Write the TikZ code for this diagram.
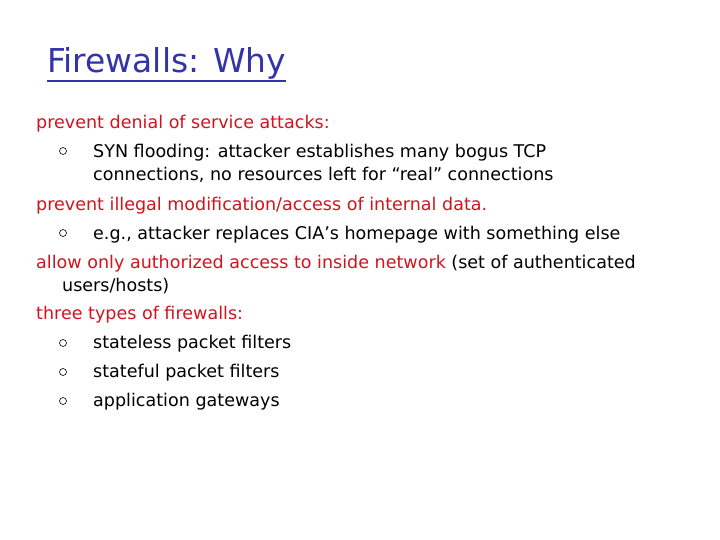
\documentclass[tikz,border=0pt]{standalone}
\usepackage{fontspec}
\setmainfont{DejaVu Sans}
\definecolor{ttl}{RGB}{51,51,170}
\definecolor{rd}{RGB}{210,20,30}
\begin{document}
\begin{tikzpicture}[x=1bp,y=1bp,
  ln/.style={anchor=base west,inner sep=0pt,font=\fontsize{17.6}{20}\selectfont},
  blt/.style={circle,draw=black,line width=0.6bp,minimum size=7bp,inner sep=0pt}]
\useasboundingbox[fill=white] (0,0) rectangle (720,540);
\node[anchor=base west,inner sep=0pt,text=ttl,font=\fontsize{33}{36}\selectfont] (title) at (47,467) {Firewalls: Why};
\draw[ttl,line width=1.3bp] ([yshift=-8bp]title.base west) -- ([yshift=-8bp]title.base east);
\node[ln,text=rd] (l1) at (36,411) {prevent denial of service attacks:};
\node[blt] (b1) at (63,389) {};
\node[ln] (l2) at (93,382) {SYN flooding: attacker establishes many bogus TCP};
\node[ln] (l3) at (93,359) {connections, no resources left for “real” connections};
\node[ln,text=rd] (l4) at (36,329) {prevent illegal modification/access of internal data.};
\node[blt] (b2) at (63,307) {};
\node[ln] (l5) at (93,300) {e.g., attacker replaces CIA’s homepage with something else};
\node[ln] (l6) at (36,271) {\textcolor{rd}{allow only authorized access to inside network} (set of authenticated};
\node[ln] (l7) at (62,248) {users/hosts)};
\node[ln,text=rd] (l8) at (36,220) {three types of firewalls:};
\node[blt] (b3) at (63,197) {};
\node[ln] (l9) at (93,191) {stateless packet filters};
\node[blt] (b4) at (63,168) {};
\node[ln] (l10) at (93,162) {stateful packet filters};
\node[blt] (b5) at (63,139) {};
\node[ln] (l11) at (93,133) {application gateways};
\end{tikzpicture}
\end{document}
